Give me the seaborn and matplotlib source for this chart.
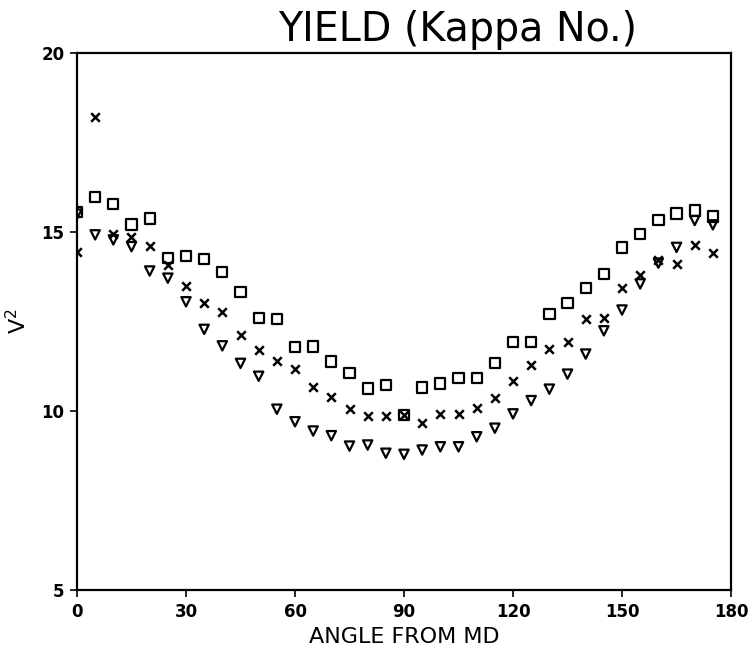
import matplotlib
matplotlib.use("Agg")
import matplotlib.pyplot as plt
import seaborn as sns
import pandas as pd

angles = [0, 5, 10, 15, 20, 25, 30, 35, 40, 45, 50, 55, 60, 65, 70, 75, 80, 85,
          90, 95, 100, 105, 110, 115, 120, 125, 130, 135, 140, 145, 150, 155, 160, 165, 170, 175]

squares = [15.56, 15.97, 15.78, 15.21, 15.38, 14.27, 14.33, 14.24, 13.89, 13.33, 12.59, 12.56,
           11.78, 11.80, 11.38, 11.07, 10.63, 10.73, 9.88, 10.66, 10.77, 10.93, 10.93, 11.35,
           11.92, 11.92, 12.70, 13.01, 13.44, 13.82, 14.57, 14.94, 15.34, 15.52, 15.60, 15.43]

crosses = [14.45, 18.21, 14.95, 14.85, 14.61, 14.07, 13.48, 13.03, 12.77, 12.12, 11.69, 11.40,
           11.16, 10.66, 10.38, 10.05, 9.86, 9.86, 9.88, 9.67, 9.92, 9.91, 10.08, 10.36,
           10.84, 11.28, 11.73, 11.94, 12.56, 12.59, 13.44, 13.80, 14.22, 14.10, 14.64, 14.41]

triangles = [15.50, 14.92, 14.78, 14.59, 13.91, 13.71, 13.05, 12.28, 11.82, 11.33, 10.97, 10.05,
             9.70, 9.44, 9.31, 9.02, 9.05, 8.82, 8.79, 8.91, 9.00, 9.00, 9.28, 9.52,
             9.92, 10.29, 10.61, 11.03, 11.59, 12.24, 12.82, 13.55, 14.13, 14.57, 15.32, 15.20]

x_ticks = [0, 30, 60, 90, 120, 150, 180]
y_ticks = [5, 10, 15, 20]

sns.set_theme(style="white")
plt.rcParams['font.family'] = ['DejaVu Sans']

fig = plt.figure(figsize=(7.49, 6.59), dpi=100)
ax = fig.add_axes([0.1028, 0.1047, 0.8732, 0.8149])

df = pd.DataFrame({"angle": angles, "sq": squares, "cr": crosses, "tr": triangles})

sns.scatterplot(data=df, x="angle", y="sq", marker="s", s=55, facecolors="none",
                edgecolors="black", linewidths=1.6, ax=ax, zorder=3)
sns.scatterplot(data=df, x="angle", y="cr", marker="x", s=38, color="black",
                linewidths=1.8, ax=ax, zorder=3)
sns.scatterplot(data=df, x="angle", y="tr", marker="v", s=45, facecolors="none",
                edgecolors="black", linewidths=1.6, ax=ax, zorder=3)

ax.set_xlim(0, 180)
ax.set_ylim(5, 20)
ax.set_xticks(x_ticks)
ax.set_yticks(y_ticks)
ax.set_xticklabels([str(t) for t in x_ticks], fontsize=12, fontweight="bold")
ax.set_yticklabels([str(t) for t in y_ticks], fontsize=12, fontweight="bold")
ax.tick_params(axis="both", direction="out", length=5, width=1.2, colors="black",
               left=True, bottom=True, pad=4)
for sp in ax.spines.values():
    sp.set_visible(True)
    sp.set_color("black")
    sp.set_linewidth(1.6)

ax.set_xlabel("ANGLE FROM MD", fontsize=16, color="black")
ax.xaxis.set_label_coords(0.5, -0.068)
ax.set_ylabel("V$^2$", fontsize=16, color="black")
ax.yaxis.set_label_coords(-0.072, 0.5)
ax.grid(False)

fig.text(0.611, 0.955, "YIELD (Kappa No.)", fontsize=28.5, ha="center", va="center", color="black")

fig.savefig("out.png", dpi=100, facecolor="white")
